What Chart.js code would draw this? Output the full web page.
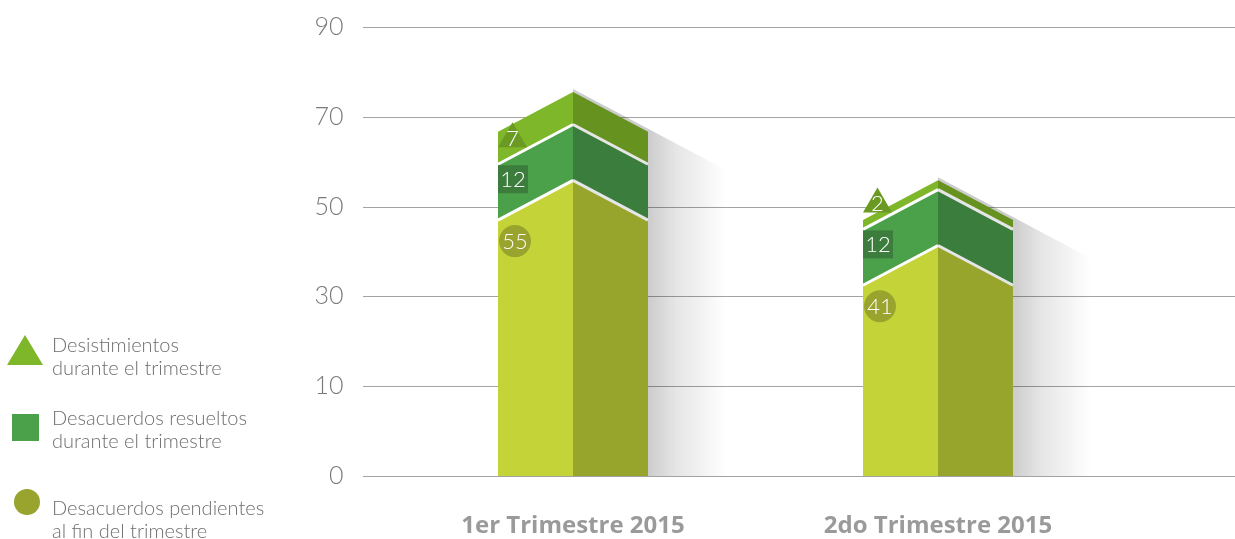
<!DOCTYPE html>
<html><head><meta charset="utf-8">
<script src="https://cdn.jsdelivr.net/npm/chart.js@4.4.1/dist/chart.umd.min.js"></script>
<style>html,body{margin:0;padding:0;background:#fff;overflow:hidden}#wrap{width:1235px;height:539px;position:relative}</style>
</head><body><div id="wrap"><canvas id="c" width="1235" height="539"></canvas></div>
<script>
const categories = ['1er Trimestre 2015', '2do Trimestre 2015'];
const pendientes = [55, 41];
const resueltos = [12, 12];
const desistimientos = [7, 2];
const yTickLabels = ['0', '10', '30', '50', '70', '90'];
const seriesNames = [
  ['Desacuerdos pendientes', 'al fin del trimestre'],
  ['Desacuerdos resueltos', 'durante el trimestre'],
  ['Desistimientos', 'durante el trimestre']
];
const frontColors = ['#c4d438', '#4aa14a', '#7fb72b'];
const sideColors = ['#98a52d', '#3a7d3d', '#66921f'];
const markColors = ['#98a42e', '#3c7d3e', '#6a9a22'];
const Y_MAX = 96.5;

const LIGHT = '300 ';
const FAM = 'Lato, "Open Sans", sans-serif';

const deco = {
  id: 'deco',
  beforeDatasetsDraw(chart) {
    const ctx = chart.ctx, ys = chart.scales.y;
    ctx.save();
    ctx.strokeStyle = '#a3a3a3'; ctx.lineWidth = 1;
    ys.ticks.forEach(t => {
      const py = Math.round(ys.getPixelForValue(t.value)) + 0.5;
      ctx.beginPath(); ctx.moveTo(363, py); ctx.lineTo(1235, py); ctx.stroke();
    });
    const n = chart.data.labels.length;
    for (let i = 0; i < n; i++) {
      const top = chart.getDatasetMeta(2).data[i];
      const p = top.getProps(['x', 'y', 'base', 'width'], true);
      const bot = chart.getDatasetMeta(0).data[i].getProps(['base'], true).base;
      const half = p.width / 2, R = p.x + half, P = half * 0.53;
      const ext = 78;
      const g = ctx.createLinearGradient(R, 0, R + ext, 0);
      g.addColorStop(0, 'rgba(0,0,0,0.2)');
      g.addColorStop(0.35, 'rgba(0,0,0,0.1)');
      g.addColorStop(1, 'rgba(0,0,0,0)');
      ctx.fillStyle = g;
      ctx.beginPath();
      ctx.moveTo(p.x, p.y - P - 3);
      ctx.lineTo(R + ext, p.y - P - 3 + (half + ext) * 0.53);
      ctx.lineTo(R + ext, bot);
      ctx.lineTo(p.x, bot);
      ctx.closePath(); ctx.fill();
    }
    ctx.restore();
  },
  afterDatasetsDraw(chart) {
    const ctx = chart.ctx;
    const n = chart.data.labels.length;
    ctx.save();
    for (let i = 0; i < n; i++) {
      const els = [0, 1, 2].map(d => chart.getDatasetMeta(d).data[i].getProps(['x', 'y', 'base', 'width'], true));
      els.forEach((e, k) => {
        const half = e.width / 2, L = e.x - half, R = e.x + half, P = half * 0.53;
        const botPeak = k === 0 ? e.base : e.base - P;
        ctx.fillStyle = frontColors[k];
        ctx.beginPath(); ctx.moveTo(L, e.base); ctx.lineTo(L, e.y); ctx.lineTo(e.x, e.y - P); ctx.lineTo(e.x, botPeak); ctx.closePath(); ctx.fill();
        ctx.fillStyle = sideColors[k];
        ctx.beginPath(); ctx.moveTo(e.x, botPeak); ctx.lineTo(e.x, e.y - P); ctx.lineTo(R, e.y); ctx.lineTo(R, e.base); ctx.closePath(); ctx.fill();
      });
      els.slice(0, 2).forEach(e => {
        const half = e.width / 2, L = e.x - half, R = e.x + half, P = half * 0.53;
        ctx.lineWidth = 3;
        ctx.strokeStyle = '#ffffff';
        ctx.beginPath(); ctx.moveTo(L, e.y); ctx.lineTo(e.x, e.y - P); ctx.stroke();
        ctx.strokeStyle = '#e6e6e6';
        ctx.beginPath(); ctx.moveTo(e.x, e.y - P); ctx.lineTo(R, e.y); ctx.stroke();
      });
      const vals = [pendientes[i], resueltos[i], desistimientos[i]];
      ctx.font = LIGHT + '22px ' + FAM;
      ctx.textAlign = 'center'; ctx.textBaseline = 'middle';
      {
        const e = els[0], L = e.x - e.width / 2;
        const cx = L + 17, cy = e.y + 21;
        ctx.fillStyle = markColors[0];
        ctx.beginPath(); ctx.arc(cx, cy, 16, 0, Math.PI * 2); ctx.fill();
        ctx.fillStyle = '#fff'; ctx.fillText(String(vals[0]), cx, cy + 1);
      }
      {
        const e = els[1], L = e.x - e.width / 2;
        const top = e.y + 1;
        ctx.fillStyle = markColors[1];
        ctx.fillRect(L, top, 30, 28);
        ctx.fillStyle = '#fff'; ctx.fillText(String(vals[1]), L + 15, top + 15);
      }
      {
        const e = els[2], L = e.x - e.width / 2;
        const by = e.base - 17;
        ctx.fillStyle = markColors[2];
        ctx.beginPath(); ctx.moveTo(L, by); ctx.lineTo(L + 14.5, by - 25); ctx.lineTo(L + 29, by); ctx.closePath(); ctx.fill();
        ctx.fillStyle = '#fff'; ctx.fillText(String(vals[2]), L + 14.5, by - 8);
      }
    }
    ctx.restore();
  },
  afterDraw(chart) {
    const ctx = chart.ctx;
    ctx.save();
    ctx.fillStyle = frontColors[2];
    ctx.beginPath(); ctx.moveTo(7, 365); ctx.lineTo(25, 335); ctx.lineTo(43, 365); ctx.closePath(); ctx.fill();
    ctx.fillStyle = frontColors[1];
    ctx.fillRect(12, 414, 27, 27);
    ctx.fillStyle = markColors[0];
    ctx.beginPath(); ctx.arc(27, 502, 13, 0, Math.PI * 2); ctx.fill();
    ctx.fillStyle = '#6f6f6f';
    ctx.font = LIGHT + '20px ' + FAM;
    ctx.textAlign = 'left'; ctx.textBaseline = 'alphabetic';
    const baselines = [[515, 538], [425, 448], [352, 375]];
    seriesNames.forEach((lines, k) => {
      lines.forEach((t, j) => ctx.fillText(t, 52, baselines[k][j]));
    });
    ctx.restore();
  }
};

new Chart(document.getElementById('c'), {
  type: 'bar',
  data: {
    labels: categories,
    datasets: [
      { label: seriesNames[0].join(' '), data: pendientes, backgroundColor: 'rgba(0,0,0,0)', barThickness: 150 },
      { label: seriesNames[1].join(' '), data: resueltos, backgroundColor: 'rgba(0,0,0,0)', barThickness: 150 },
      { label: seriesNames[2].join(' '), data: desistimientos, backgroundColor: 'rgba(0,0,0,0)', barThickness: 150 }
    ]
  },
  options: {
    responsive: false,
    animation: false,
    layout: { padding: { left: 0, right: 114.5, top: 27, bottom: 0 } },
    plugins: { legend: { display: false }, tooltip: { enabled: false } },
    scales: {
      x: {
        stacked: true,
        grid: { display: false, drawTicks: false },
        border: { display: false },
        ticks: { color: '#9a9a9a', font: { family: '"Open Sans", sans-serif', size: 24, weight: 'bold' }, padding: 36, maxRotation: 0 },
        afterFit(s) { s.height = 63; s.paddingLeft = 0; s.paddingRight = 0; }
      },
      y: {
        stacked: true,
        min: 0, max: Y_MAX,
        grid: { display: false, drawTicks: false },
        border: { display: false },
        afterBuildTicks(s) { s.ticks = [0, 1, 2, 3, 4, 5].map(i => ({ value: i * Y_MAX / 5 })); },
        ticks: {
          color: '#7a7a7a',
          font: { family: FAM, size: 25, weight: '300' },
          padding: 47,
          callback: (v, i) => yTickLabels[i]
        },
        afterFit(s) { s.width = 390.5; s.paddingTop = 0; s.paddingBottom = 0; }
      }
    }
  },
  plugins: [deco]
});
</script></body></html>
